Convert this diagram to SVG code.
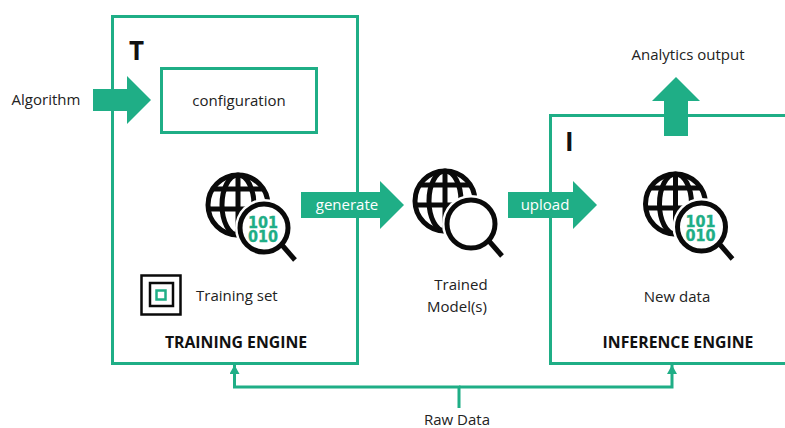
<svg xmlns="http://www.w3.org/2000/svg" width="785" height="428" viewBox="0 0 785 428">
<style>
.t{font-family:"Open Sans","Liberation Sans",sans-serif;font-size:15px;fill:#222}
.b{font-family:"Open Sans","Liberation Sans",sans-serif;font-size:15.800px;font-weight:700;fill:#111}
.w{font-family:"Open Sans","Liberation Sans",sans-serif;font-size:15px;fill:#fff}
.g{fill:#1fae86;stroke:none}
.box{fill:#fff;stroke:#1fae86;stroke-width:3}
.line{fill:none;stroke:#1fae86;stroke-width:3}
.k{fill:none;stroke:#0a0a0a}
.d{font-family:"DejaVu Sans",sans-serif;font-stretch:condensed;font-size:16px;font-weight:700;fill:#1fae86;stroke:#1fae86;stroke-width:.3;text-anchor:middle}
</style>
<defs>
<marker id="up" markerWidth="11" markerHeight="10" refX="9" refY="5" orient="auto" markerUnits="userSpaceOnUse" viewBox="0 0 10 10"><path d="M0 0L9 5L0 10Z" fill="#1fae86"/></marker>
<g id="globe">
<g class="k" stroke-width="5">
<circle cx="0" cy="0" r="30"/>
<ellipse cx="0" cy="0" rx="16" ry="30"/>
<path d="M0-30V30M-25-16H25M-29 4H29"/>
</g>
</g>
<g id="lens">
<circle cx="26" cy="23" r="29" fill="#fff"/>
<circle cx="26" cy="23" r="24" fill="#fff" stroke="#0a0a0a" stroke-width="5"/>
<path d="M44 40L57 55" stroke="#0a0a0a" stroke-width="5" fill="none"/>
</g>
</defs>
<rect width="785" height="428" fill="#fff"/>
<g id="connectors">
<path class="line" d="M459 408V387H234.500V365" marker-end="url(#up)"/>
<path class="line" d="M459 387H672V365" marker-end="url(#up)"/>
</g>
<g id="training-engine">
<rect class="box" x="112.500" y="16.500" width="245" height="347"/>
<text x="129" y="60" style="font-family:'Open Sans','Liberation Sans',sans-serif;font-size:26px;font-weight:700;fill:#111">T</text>
<text class="b" x="236" y="348" text-anchor="middle">TRAINING ENGINE</text>
</g>
<g id="inference-engine">
<path class="box" d="M785 115.500H550.500V363.500H785"/>
<text x="565" y="151" style="font-family:'Open Sans','Liberation Sans',sans-serif;font-size:26px;font-weight:700;fill:#111">I</text>
<text class="b" x="678" y="348" text-anchor="middle">INFERENCE ENGINE</text>
</g>
<g id="algorithm">
<text class="t" x="46" y="105" text-anchor="middle">Algorithm</text>
<path class="g" d="M93 89H127V76L151 100L127 124V111H93Z"/>
</g>
<g id="configuration">
<rect class="box" x="161.500" y="68.500" width="155" height="64"/>
<text class="t" x="239" y="106" text-anchor="middle">configuration</text>
</g>
<g id="training-icon" transform="translate(238 205)">
<use href="#globe"/><use href="#lens"/>
<text class="d"><tspan x="25" y="23">101</tspan><tspan x="25" y="37">010</tspan></text>
</g>
<g id="training-set">
<rect x="141.500" y="275.500" width="39" height="39" fill="#fff" stroke="#0a0a0a" stroke-width="2.500"/>
<rect x="150" y="283" width="23" height="23" fill="#fff" stroke="#0a0a0a" stroke-width="2.500"/>
<rect x="156.500" y="290.500" width="9" height="9" fill="#fff" stroke="#1fae86" stroke-width="2.500"/>
<text class="t" x="196" y="301">Training set</text>
</g>
<g id="generate">
<path class="g" d="M301 192H380V181L404 205L380 229V218H301Z"/>
<text class="w" x="347" y="210" text-anchor="middle">generate</text>
</g>
<g id="trained-model">
<use href="#globe" x="445" y="201"/><use href="#lens" x="445" y="201"/>
<text class="t" x="461" y="290" text-anchor="middle">Trained</text>
<text class="t" x="457" y="312" text-anchor="middle">Model(s)</text>
</g>
<g id="upload">
<path class="g" d="M508 192H573V181L597 205L573 229V218H508Z"/>
<text class="w" x="545" y="210" text-anchor="middle">upload</text>
</g>
<g id="inference-icon" transform="translate(675.500 204)">
<use href="#globe"/><use href="#lens"/>
<text class="d"><tspan x="25" y="23">101</tspan><tspan x="25" y="37">010</tspan></text>
</g>
<text class="t" x="677" y="302" text-anchor="middle" id="new-data">New data</text>
<g id="analytics">
<path class="g" d="M664 136V101H652L676 77L700 101H688V136Z"/>
<text class="t" x="688" y="60" text-anchor="middle">Analytics output</text>
</g>
<text class="t" x="457" y="425" text-anchor="middle" id="raw-data">Raw Data</text>
</svg>
